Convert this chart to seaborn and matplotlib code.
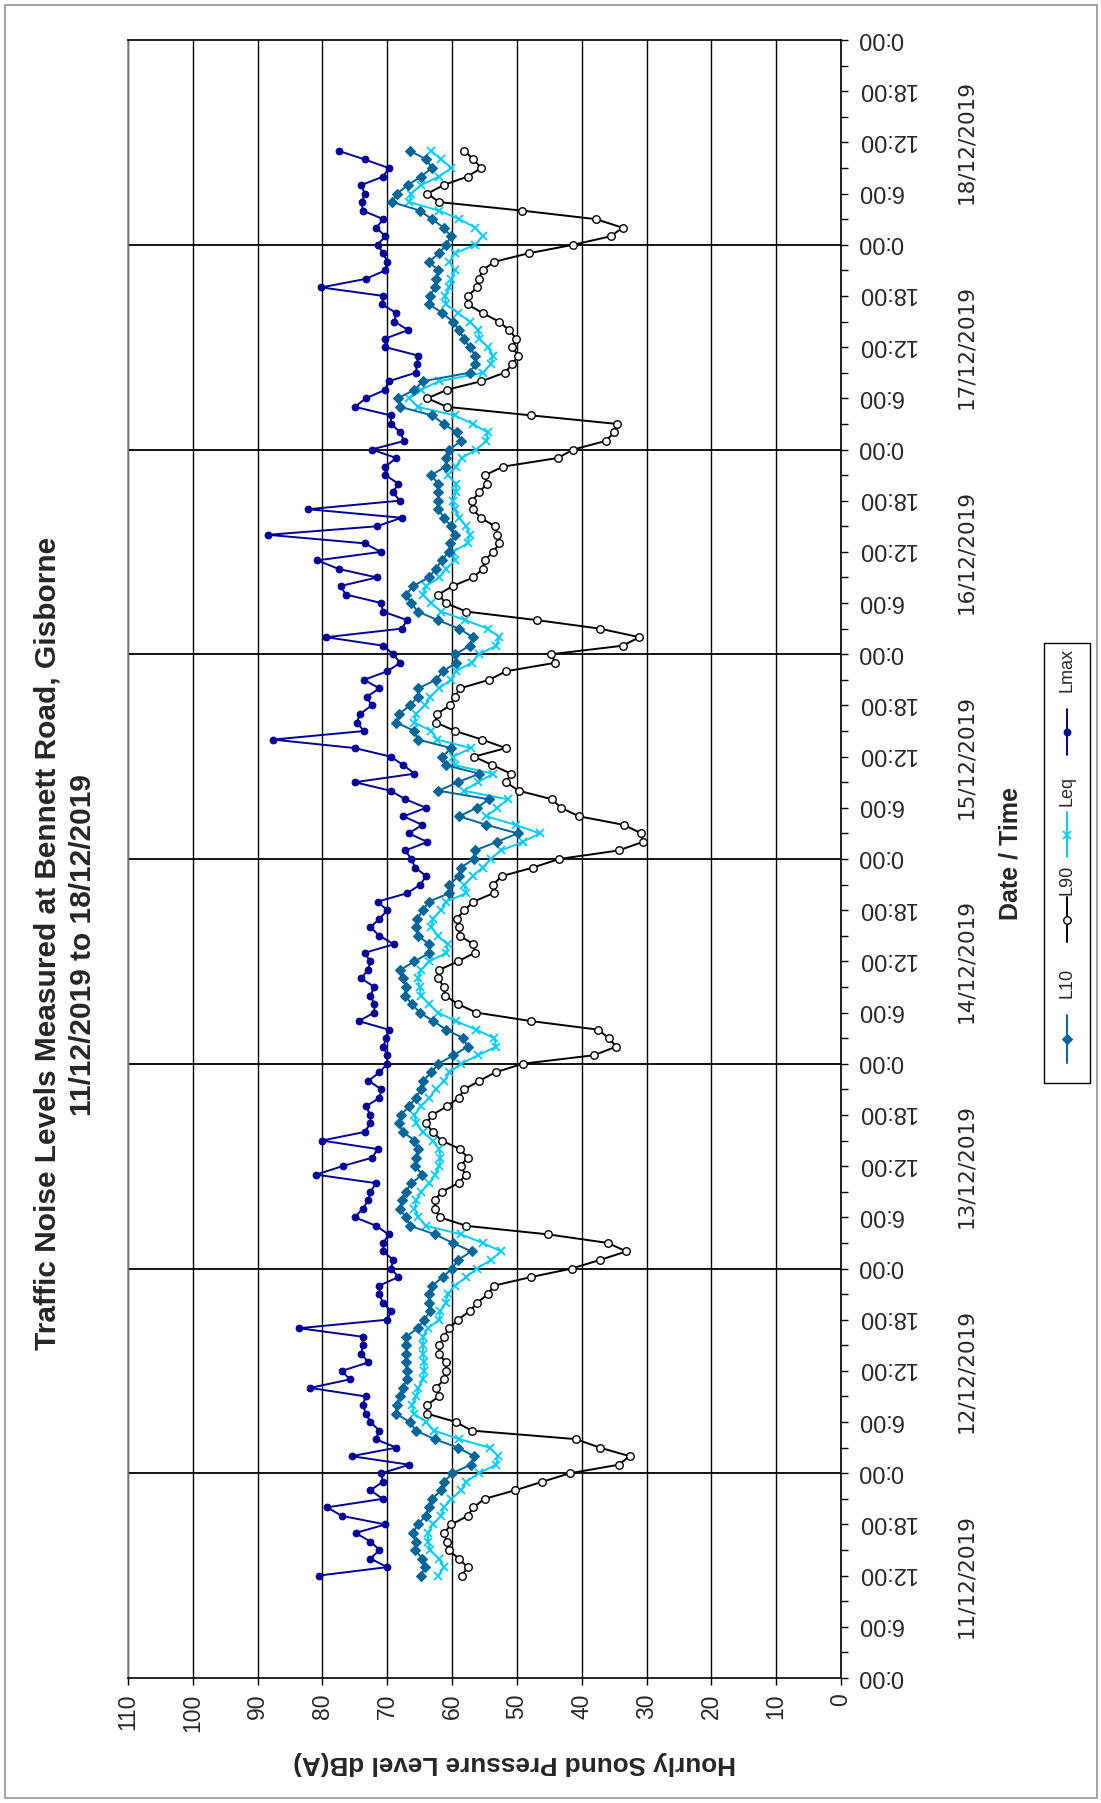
import numpy as np
import pandas as pd
import matplotlib
matplotlib.use("Agg")
import matplotlib.pyplot as plt
import matplotlib.patches as mpatches
from matplotlib.lines import Line2D
from matplotlib.transforms import blended_transform_factory, ScaledTranslation
import seaborn as sns

# ── Data (hourly, 11/12/2019 12:00 → 18/12/2019 11:00) ────────────────────────
START = pd.Timestamp("2019-12-11 12:00")
DAY0  = pd.Timestamp("2019-12-11 00:00")

L10 = [
    64.8, 64.2, 64.6, 65.7, 65.6, 66.0, 65.3, 64.1, 63.6, 63.1, 61.7, 61.2,
    60.0, 57.1, 56.6, 59.1, 62.7, 65.6, 66.5, 68.7, 68.5, 68.1, 67.6, 67.0,
    67.0, 67.1, 67.1, 67.1, 67.1, 65.3, 64.3, 63.4, 63.5, 63.6, 63.1, 61.4,
    60.0, 59.1, 57.0, 59.9, 62.6, 66.5, 67.1, 68.1, 67.7, 67.1, 66.3, 64.6,
    65.7, 65.6, 65.3, 65.8, 67.6, 68.2, 67.9, 66.6, 65.6, 64.8, 64.5, 63.2,
    62.1, 59.8, 57.6, 58.3, 60.9, 62.9, 65.0, 66.2, 67.3, 67.1, 67.6, 68.0,
    65.8, 63.5, 63.6, 65.2, 65.6, 65.4, 64.5, 63.6, 60.4, 60.4, 59.0, 58.7,
    56.6, 56.5, 53.1, 49.9, 54.7, 58.9, 56.2, 54.3, 62.1, 59.1, 55.8, 61.0,
    61.5, 60.1, 65.3, 65.8, 68.6, 68.2, 66.5, 65.3, 65.2, 62.5, 61.4, 59.4,
    59.5, 57.3, 56.8, 58.9, 62.2, 65.3, 66.3, 67.1, 66.0, 63.6, 62.5, 61.6,
    60.5, 60.3, 59.5, 60.1, 61.3, 62.1, 62.2, 62.1, 62.2, 63.2, 61.0, 61.0,
    60.4, 58.6, 59.3, 61.3, 63.1, 68.0, 68.4, 65.8, 64.5, 57.3, 56.4, 56.4,
    57.3, 58.2, 58.9, 59.9, 61.5, 63.5, 63.4, 62.7, 62.5, 62.1, 63.6, 62.0,
    60.9, 60.2, 61.3, 63.1, 65.0, 69.2, 68.5, 66.8, 64.8, 63.1, 64.0, 66.5,
]

L90 = [
    58.5, 57.6, 59.0, 60.5, 60.8, 61.3, 60.1, 57.6, 56.7, 55.0, 50.3, 46.1,
    41.8, 34.3, 32.6, 37.2, 40.9, 57.0, 59.4, 63.9, 63.9, 62.0, 62.5, 61.2,
    60.9, 61.0, 62.0, 62.0, 61.3, 60.4, 59.1, 57.3, 56.1, 54.5, 53.5, 47.8,
    41.5, 37.2, 33.1, 36.0, 45.2, 57.8, 61.9, 62.7, 62.7, 61.6, 59.0, 57.9,
    58.7, 57.6, 58.8, 61.6, 63.0, 64.0, 63.1, 60.8, 59.0, 58.1, 55.8, 53.3,
    49.1, 38.1, 34.7, 35.8, 37.5, 47.8, 56.3, 59.1, 61.1, 61.3, 62.1, 62.0,
    59.1, 56.5, 56.7, 58.8, 59.0, 59.3, 58.1, 56.7, 53.6, 53.7, 52.3, 47.5,
    43.5, 34.3, 30.6, 30.8, 33.5, 40.4, 43.2, 44.6, 49.7, 51.7, 50.9, 53.8,
    56.6, 51.7, 55.4, 59.5, 62.5, 62.4, 60.3, 59.6, 58.8, 54.3, 51.7, 44.1,
    44.7, 33.7, 31.1, 37.2, 46.9, 57.8, 61.0, 62.1, 59.9, 56.7, 55.3, 55.0,
    53.7, 52.7, 53.0, 53.4, 55.6, 56.8, 56.9, 55.8, 54.6, 54.9, 52.1, 43.7,
    41.3, 36.3, 35.0, 34.6, 47.8, 60.8, 63.8, 60.8, 55.5, 51.9, 50.7, 49.8,
    50.7, 50.1, 51.2, 52.8, 55.3, 57.6, 57.6, 56.1, 55.9, 55.3, 53.5, 48.2,
    41.3, 35.5, 33.7, 37.8, 49.2, 62.0, 63.8, 61.3, 57.6, 55.5, 56.7, 58.1,
]

LEQ = [
    62.1, 61.3, 62.0, 63.4, 63.7, 63.7, 63.0, 61.7, 61.3, 60.1, 58.6, 57.8,
    55.9, 53.2, 52.9, 54.2, 58.9, 62.8, 64.0, 65.9, 66.2, 65.5, 65.2, 64.5,
    64.3, 64.3, 64.5, 64.5, 64.5, 63.7, 62.0, 61.8, 61.0, 60.7, 59.6, 57.8,
    56.2, 54.0, 52.4, 55.3, 58.6, 64.0, 65.2, 65.8, 65.5, 64.8, 63.5, 62.6,
    62.0, 61.8, 62.0, 63.0, 64.5, 65.5, 65.8, 64.8, 63.5, 62.5, 61.2, 60.4,
    58.6, 56.0, 53.2, 53.5, 56.3, 59.4, 62.2, 63.5, 64.8, 65.0, 65.3, 64.8,
    63.5, 60.9, 60.7, 62.2, 63.2, 63.0, 61.7, 60.9, 57.8, 58.1, 56.8, 55.3,
    54.0, 52.5, 49.1, 46.5, 50.2, 54.7, 53.0, 51.4, 58.2, 56.0, 53.7, 59.6,
    59.8, 57.1, 62.3, 63.2, 65.8, 65.6, 64.2, 63.4, 62.0, 60.2, 59.4, 57.0,
    55.8, 53.2, 52.7, 54.5, 58.0, 61.7, 63.2, 64.5, 64.0, 62.0, 60.9, 59.6,
    59.9, 57.6, 57.3, 57.8, 58.9, 59.6, 59.9, 59.4, 59.4, 60.7, 59.4, 58.5,
    56.3, 54.7, 54.5, 56.8, 59.6, 65.3, 66.6, 64.8, 62.0, 55.3, 54.0, 53.7,
    54.5, 55.8, 56.0, 57.3, 59.1, 60.9, 61.1, 60.4, 60.1, 59.6, 60.4, 59.6,
    56.4, 55.3, 56.4, 58.9, 62.0, 66.6, 66.3, 64.8, 62.0, 60.1, 61.7, 63.2,
]

LMAX = [
    80.6, 70.0, 72.6, 71.2, 72.6, 74.9, 70.3, 77.0, 79.3, 70.7, 72.6, 70.7,
    70.9, 66.6, 75.5, 68.6, 71.8, 71.2, 72.6, 73.3, 73.8, 73.3, 81.9, 75.8,
    77.0, 72.9, 74.0, 73.8, 73.8, 83.6, 70.0, 69.4, 70.7, 71.2, 71.2, 68.3,
    69.4, 69.1, 70.6, 70.6, 69.8, 71.7, 75.0, 73.8, 72.9, 72.6, 71.7, 81.0,
    76.9, 72.3, 71.5, 80.1, 73.5, 72.6, 72.6, 73.3, 71.2, 70.9, 72.9, 71.2,
    70.0, 70.0, 70.6, 70.2, 69.8, 74.4, 72.0, 72.0, 72.6, 72.0, 74.0, 73.0,
    72.6, 73.5, 69.0, 71.2, 72.6, 71.2, 70.0, 71.5, 66.9, 64.9, 64.0, 65.7,
    66.3, 67.2, 63.8, 66.7, 64.6, 67.5, 64.0, 67.2, 69.5, 75.0, 65.8, 67.5,
    69.5, 75.0, 87.6, 73.6, 74.7, 74.2, 72.4, 73.2, 71.2, 73.6, 70.0, 68.0,
    69.1, 70.6, 79.4, 67.8, 66.9, 70.7, 70.9, 76.4, 77.2, 71.6, 77.5, 80.8,
    71.0, 73.5, 88.4, 71.6, 67.8, 82.2, 68.1, 69.1, 68.3, 70.3, 70.3, 68.6,
    72.4, 67.4, 68.0, 69.4, 69.5, 75.0, 73.3, 70.3, 69.8, 65.6, 65.4, 65.2,
    70.3, 70.3, 66.8, 68.9, 68.6, 70.8, 70.6, 80.2, 73.3, 70.3, 70.0, 70.6,
    71.5, 70.3, 71.7, 70.6, 73.8, 73.9, 73.5, 74.0, 70.6, 69.8, 73.5, 77.5,
]

DATE_LABELS = [f"{d}/12/2019" for d in range(11, 19)]
DB_TICKS    = list(range(0, 111, 10))

# ── Styles ─────────────────────────────────────────────────────────────────────
SERIES = {
    "L10":  dict(color="#006699", marker="D", markersize=4.8, mfc="#006699", mec="#006699", mew=0.8),
    "L90":  dict(color="black",   marker="o", markersize=5.4, mfc="white",   mec="black",   mew=1.0),
    "Leq":  dict(color="#00CCFF", marker="x", markersize=6.2, mfc="#00CCFF", mec="#00CCFF", mew=1.3),
    "Lmax": dict(color="#000099", marker="o", markersize=4.8, mfc="#000099", mec="#000099", mew=0.8),
}

times = pd.date_range(START, periods=len(L10), freq="h")
df = pd.DataFrame({
    "hours": (times - DAY0) / pd.Timedelta(hours=1),
    "L10": L10, "L90": L90, "Leq": LEQ, "Lmax": LMAX,
})

sns.set_style("white")
plt.rcParams["font.family"] = ["Liberation Sans", "DejaVu Sans"]

W, H = 1101, 1803
fig = plt.figure(figsize=(W / 100, H / 100), dpi=100)
ax = fig.add_axes([128 / W, 1 - 1678 / H, (841 - 128) / W, (1678 - 40) / H])

for name in ["L90", "Leq", "L10", "Lmax"]:
    st = SERIES[name]
    sns.lineplot(data=df, x=name, y="hours", orient="y", sort=False, estimator=None,
                 ax=ax, color=st["color"], lw=1.4, marker=st["marker"],
                 markersize=st["markersize"], markerfacecolor=st["mfc"],
                 markeredgecolor=st["mec"], markeredgewidth=st["mew"],
                 legend=False, zorder=3)

# ── Axes ───────────────────────────────────────────────────────────────────────
ax.set_xlim(110, 0)
ax.set_ylim(0, 192)
ax.set_xlabel("")
ax.set_ylabel("")
ax.set_xticks(DB_TICKS)
ax.set_xticklabels([str(v) for v in DB_TICKS])
ax.tick_params(axis="x", bottom=True, top=False, direction="out", length=5,
               width=1, labelsize=16.5, labelrotation=90, pad=6, color="black")

hr_ticks = np.arange(0, 193, 6)
ax.yaxis.tick_right()
ax.set_yticks(hr_ticks)
ax.set_yticks(np.arange(3, 192, 6), minor=True)
ax.tick_params(axis="y", which="both", left=False, right=True, direction="out",
               length=5, width=1, color="black", labelright=False)

# hour labels (upside down, as in the rotated original)
tr = blended_transform_factory(ax.transAxes, ax.transData)
tr_up = tr + ScaledTranslation(0, 2.5 / 100, fig.dpi_scale_trans)
for h in hr_ticks:
    ax.text((857 - 128) / (841 - 128), h, f"{int(h) % 24}:00", transform=tr_up,
            rotation=180, ha="left", va="center", fontsize=17, clip_on=False)

ax.grid(axis="x", color="black", lw=1.0, zorder=1)
ax.grid(axis="y", visible=False)
for d in range(1, 8):
    ax.axhline(24 * d, color="black", lw=1.3, zorder=1)
for side in ["top", "right", "bottom"]:
    ax.spines[side].set_color("black")
    ax.spines[side].set_linewidth(1.2)
ax.spines["left"].set_color("#8c8c8c")
ax.spines["left"].set_linewidth(1.2)

# date labels, centred on noon of each day
for i, lab in enumerate(DATE_LABELS):
    ax.text((966 - 128) / (841 - 128), 24 * i + 12, lab, transform=tr,
            rotation=90, ha="center", va="center", fontsize=15.5,
            family=["DejaVu Sans"])

# ── Titles ─────────────────────────────────────────────────────────────────────
fig.text(48 / W, 1 - 943 / H, "Traffic Noise Levels Measured at Bennett Road, Gisborne",
         rotation=90, ha="center", va="center", fontsize=21.5, fontweight="bold")
fig.text(83 / W, 1 - 945 / H, "11/12/2019 to 18/12/2019",
         rotation=90, ha="center", va="center", fontsize=21.5, fontweight="bold")
fig.text(1010 / W, 1 - 854 / H, "Date / Time", rotation=90, ha="center",
         va="center", fontsize=18, fontweight="bold")
fig.text(515 / W, 1 - 1763 / H, "Hourly Sound Pressure Level dB(A)", rotation=180,
         ha="center", va="center", fontsize=18.8, fontweight="bold")

# ── Legend (vertical, drawn by hand) ───────────────────────────────────────────
fig.add_artist(mpatches.Rectangle((1044 / W, 1 - 1083 / H), 46 / W, 440 / H,
                                  transform=fig.transFigure, fill=False,
                                  edgecolor="black", lw=1.0))
LEG = [("L10", 1015, 1063, 983), ("L90", 897, 942, 880),
       ("Leq", 812, 857, 791), ("Lmax", 709, 755, 670)]
for name, y0, y1, yt in LEG:
    st = SERIES[name]
    fig.add_artist(Line2D([1067 / W, 1067 / W], [1 - y0 / H, 1 - y1 / H],
                          transform=fig.transFigure, color=st["color"], lw=1.4))
    fig.add_artist(Line2D([1067 / W], [1 - (y0 + y1) / 2 / H],
                          transform=fig.transFigure, color=st["color"],
                          marker=st["marker"], markersize=st["markersize"],
                          markerfacecolor=st["mfc"], markeredgecolor=st["mec"],
                          markeredgewidth=st["mew"], lw=0))
    fig.text(1067 / W, 1 - yt / H, name, rotation=90, ha="center", va="center",
             fontsize=13)

# outer frame
fig.add_artist(mpatches.Rectangle((5 / W, 5 / H), 1092 / W, 1793 / H,
                                  transform=fig.transFigure, fill=False,
                                  edgecolor="#8c8c8c", lw=1.1))

fig.savefig("out.png", dpi=100)
